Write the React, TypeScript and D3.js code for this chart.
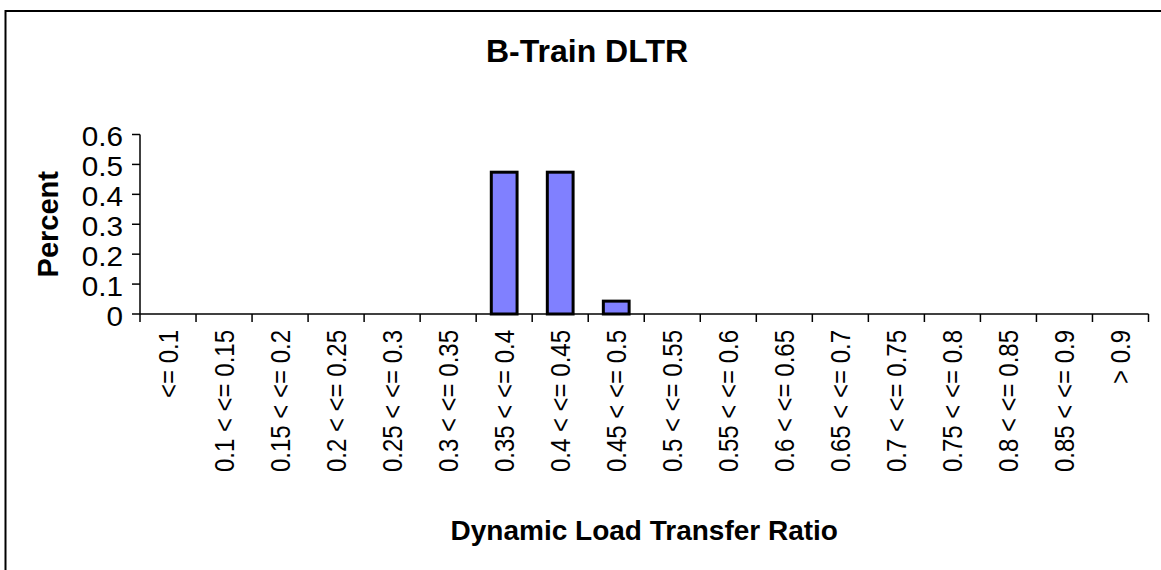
import React from "react";
import * as d3 from "d3";

const categories = [
  "<= 0.1",
  "0.1 < <= 0.15",
  "0.15 < <= 0.2",
  "0.2 < <= 0.25",
  "0.25 < <= 0.3",
  "0.3 < <= 0.35",
  "0.35 < <= 0.4",
  "0.4 < <= 0.45",
  "0.45 < <= 0.5",
  "0.5 < <= 0.55",
  "0.55 < <= 0.6",
  "0.6 < <= 0.65",
  "0.65 < <= 0.7",
  "0.7 < <= 0.75",
  "0.75 < <= 0.8",
  "0.8 < <= 0.85",
  "0.85 < <= 0.9",
  "> 0.9",
];
const percentValues = [0, 0, 0, 0, 0, 0, 0.474, 0.474, 0.043, 0, 0, 0, 0, 0, 0, 0, 0, 0];
const yTicks = [0, 0.1, 0.2, 0.3, 0.4, 0.5, 0.6];

const width = 1161;
const height = 570;
const margin = { top: 134.5, right: 12.5, bottom: 256, left: 140 };
const font = "'Liberation Sans', Arial, Helvetica, sans-serif";

export default function App() {
  const boundsWidth = width - margin.left - margin.right;
  const boundsHeight = height - margin.top - margin.bottom;

  const xScale = d3.scaleBand().domain(categories).range([0, boundsWidth]).padding(0);
  const yScale = d3.scaleLinear().domain([0, 0.6]).range([boundsHeight, 0]);
  const bw = xScale.bandwidth();

  // bars are a bit under half the category width
  const bars = categories.map((c, i) => {
    const v = percentValues[i];
    if (!v) return null;
    const x0 = (xScale(c) ?? 0) + bw * 0.27;
    return (
      <rect
        key={c}
        x={x0}
        y={yScale(v)}
        width={bw * 0.46}
        height={boundsHeight - yScale(v)}
        fill="#8080FF"
        stroke="#000"
        strokeWidth={3}
      />
    );
  });

  const boundaries = categories.map((c) => xScale(c) ?? 0).concat([boundsWidth]);

  return (
    <svg
      width={width}
      height={height}
      style={{ position: "absolute", left: 0, top: 0, background: "#fff" }}
      fontFamily={font}
    >
      <rect x={5.5} y={11} width={1300} height={700} fill="#fff" stroke="#000" strokeWidth={2} />

      <text x={587} y={62} textAnchor="middle" fontSize={32} fontWeight="bold">
        B-Train DLTR
      </text>

      <g transform={`translate(${margin.left},${margin.top})`}>
        {bars}

        {/* y axis */}
        <line x1={0} x2={0} y1={0} y2={boundsHeight} stroke="#000" strokeWidth={1.5} />
        {yTicks.map((t) => (
          <g key={t} transform={`translate(0,${yScale(t)})`}>
            <line x1={-8} x2={0} stroke="#000" strokeWidth={1.5} />
            <text
              transform="translate(-17,11.5) scale(1.1,1)"
              textAnchor="end"
              fontSize={27}
            >
              {t}
            </text>
          </g>
        ))}

        {/* x axis */}
        <line x1={0} x2={boundsWidth} y1={boundsHeight} y2={boundsHeight} stroke="#000" strokeWidth={1.5} />
        {boundaries.map((b, i) => (
          <line key={i} x1={b} x2={b} y1={boundsHeight} y2={boundsHeight + 8} stroke="#000" strokeWidth={1.5} />
        ))}
        {categories.map((c) => (
          <text
            key={c}
            transform={`translate(${(xScale(c) ?? 0) + bw / 2 + 10},${boundsHeight + 16}) rotate(-90) scale(1,1.17)`}
            textAnchor="end"
            fontSize={24}
          >
            {c}
          </text>
        ))}
      </g>

      <text
        transform={`translate(58,${margin.top + boundsHeight / 2}) rotate(-90)`}
        textAnchor="middle"
        fontSize={29}
        fontWeight="bold"
      >
        Percent
      </text>
      <text x={margin.left + boundsWidth / 2} y={540} textAnchor="middle" fontSize={28} fontWeight="bold">
        Dynamic Load Transfer Ratio
      </text>
    </svg>
  );
}
